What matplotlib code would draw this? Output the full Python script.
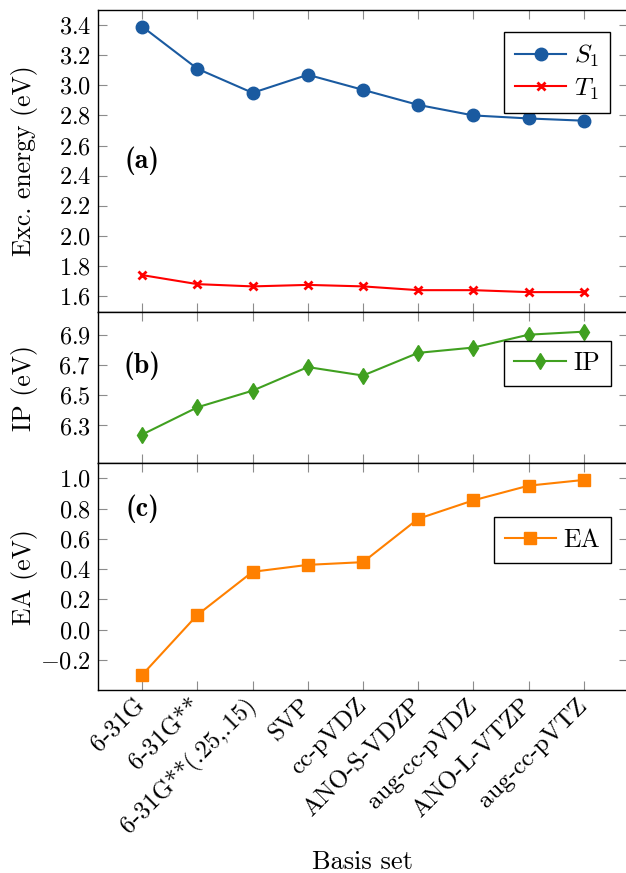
import numpy as np
import matplotlib
matplotlib.use("Agg")
import matplotlib.pyplot as plt

# -----------------------------------------
# data
# -----------------------------------------
basis = ['6-31G', '6-31G**', '6-31G**(.25,.15)', 'SVP', 'cc-pVDZ',
         'ANO-S-VDZP', 'aug-cc-pVDZ', 'ANO-L-VTZP', 'aug-cc-pVTZ']
s1 = [3.39, 3.11, 2.95, 3.07, 2.97, 2.87, 2.80, 2.78, 2.765]
t1 = [1.74, 1.68, 1.665, 1.675, 1.665, 1.64, 1.64, 1.627, 1.627]
ip = [6.24, 6.42, 6.53, 6.686, 6.63, 6.78, 6.815, 6.90, 6.92]
ea = [-0.30, 0.097, 0.382, 0.428, 0.446, 0.733, 0.855, 0.952, 0.99]

blue = '#1a5aa0'
red = '#ff0000'
green = '#40a020'
orange = '#ff8000'

plt.rcParams['font.family'] = 'serif'
plt.rcParams['font.serif'] = ['cmr10']
plt.rcParams['mathtext.fontset'] = 'cm'
plt.rcParams['axes.formatter.use_mathtext'] = True
plt.rcParams['font.size'] = 17

W, H = 626, 873
fig = plt.figure(figsize=(W / 100, H / 100), dpi=100)


def px_axes(top, bottom, left=98, right=628):
    return fig.add_axes([left / W, 1 - bottom / H, (right - left) / W, (bottom - top) / H])


ax_a = px_axes(10, 312)
ax_b = px_axes(312, 463.3)
ax_c = px_axes(463.3, 690)
x = np.arange(len(basis))

ax_a.plot(x, s1, color=blue, lw=1.5, marker='o', ms=9, label='$S_1$')
ax_a.plot(x, t1, color=red, lw=1.5, marker='x', ms=6, mew=2, label='$T_1$')
ax_a.set_ylim(1.495, 3.5)
ax_a.set_yticks(np.arange(1.6, 3.41, 0.2))
ax_a.set_ylabel('Exc. energy (eV)', va='center')

ax_b.plot(x, ip, color=green, lw=1.5, marker='d', ms=8, label='IP')
ax_b.set_ylim(6.05, 7.05)
ax_b.set_yticks([6.3, 6.5, 6.7, 6.9])
ax_b.set_ylabel('IP (eV)', va='center')

ax_c.plot(x, ea, color=orange, lw=1.5, marker='s', ms=9, label='EA')
ax_c.set_ylim(-0.4, 1.1)
ax_c.set_yticks(np.arange(-0.2, 1.01, 0.2))
ax_c.set_ylabel('EA (eV)', va='center')

legend_pos = {ax_a: (0.966, 0.927), ax_b: (0.968, 0.81), ax_c: (0.968, 0.762)}
panel_tag = {ax_a: ('(a)', 0.5), ax_b: ('(b)', 0.647), ax_c: ('(c)', 0.8)}

for ax in (ax_a, ax_b, ax_c):
    ax.set_xlim(-0.8, 8.8)
    ax.set_xticks(x)
    ax.yaxis.set_major_formatter(matplotlib.ticker.FormatStrFormatter('$%.1f$'))
    ax.tick_params(direction='in', length=6.5, width=0.8, color='0.55',
                   top=True, right=True, labelsize=17.5, pad=5)
    for sp in ax.spines.values():
        sp.set_linewidth(1.0)
    ax.yaxis.set_label_coords(-0.1396, 0.5)
    ax.yaxis.label.set_size(18.5)
    leg = ax.legend(loc='upper right', bbox_to_anchor=legend_pos[ax], fancybox=False,
                    edgecolor='black', framealpha=1, fontsize=18.5, handlelength=2.0,
                    borderpad=0.42, labelspacing=0.28, handletextpad=0.3, borderaxespad=0)
    leg.get_frame().set_linewidth(1.0)
    tag, ty = panel_tag[ax]
    ax.text(0.083, ty, tag, transform=ax.transAxes, ha='center', va='center',
            fontsize=20, family='cmb10')

ax_a.tick_params(labelbottom=False)
ax_b.tick_params(labelbottom=False)
ax_c.set_xticklabels(basis, rotation=45, ha='right', va='center',
                     rotation_mode='anchor', fontsize=18)
ax_c.tick_params(axis='x', pad=9)

fig.text(362 / W, 1 - 862 / H, 'Basis set', ha='center', va='center', fontsize=19)

fig.savefig('out.png', dpi=100)
plt.close(fig)
